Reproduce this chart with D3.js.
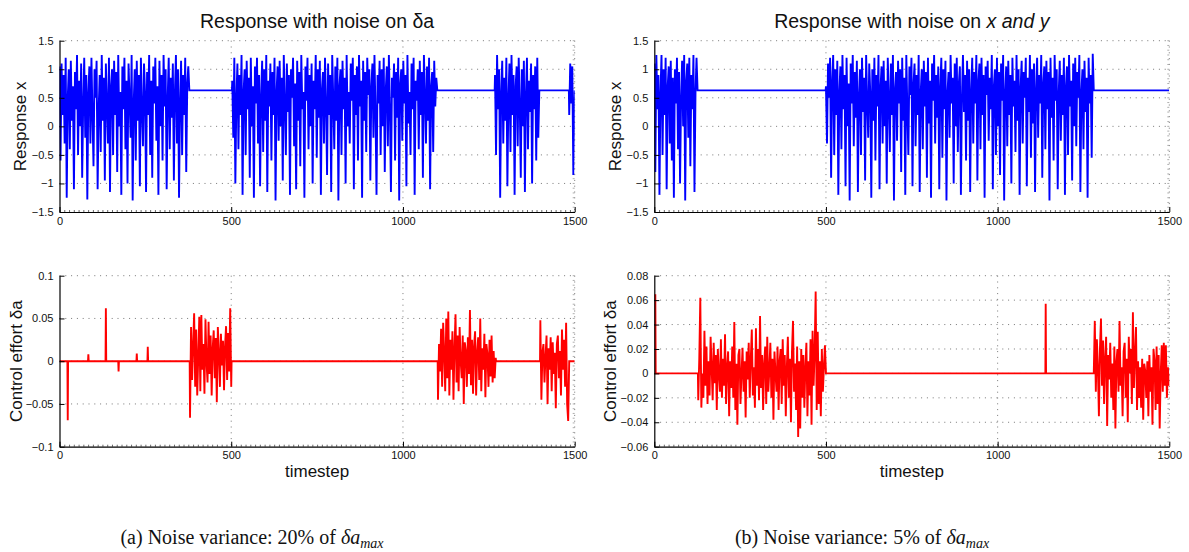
<!DOCTYPE html>
<html>
<head>
<meta charset="utf-8">
<script src="https://cdn.jsdelivr.net/npm/d3@7"></script>
<style>
body { margin: 0; background: #fff; }
text { font-family: "Liberation Sans", Arial, sans-serif; }
</style>
</head>
<body>
<script>
// ---- data (timesteps 0..1500) ----
const xTicks = [0, 500, 1000, 1500]
const respTicks = [-1.5, -1, -0.5, 0, 0.5, 1, 1.5]
const ctrlTicksA = [-0.1, -0.05, 0, 0.05, 0.1]
const ctrlTicksB = [-0.06, -0.04, -0.02, 0, 0.02, 0.04, 0.06, 0.08]

const fixedPoint = 0.63   // level where the controlled response sits
const sampleStep = 3      // the noisy stretches are sampled every 3 timesteps

// (a) response x, noisy stretches
const respA1 = [1.05,-0.6,1.1,0.2,0.9,-0.3,1.2,-1.25,0.5,1.0,
  -0.4,1.15,0.1,0.7,-1.1,0.95,0.3,1.25,-0.5,0.8,
  0.0,1.1,-0.9,0.4,1.2,-0.2,0.9,-1.28,0.6,1.05,
  -0.3,1.2,0.2,-0.7,1.0,0.5,1.15,-1.1,0.3,0.9,
  -0.45,1.25,0.1,0.85,-0.95,1.1,0.4,-0.3,1.2,-1.15,
  0.7,1.0,-0.5,1.15,0.2,0.95,-0.8,1.25,0.0,0.6,
  -1.2,1.05,0.3,1.2,-0.4,0.8,-1.0,1.1,0.5,-0.2,
  1.25,-1.3,0.4,1.0,-0.6,1.15,0.1,0.9,-1.05,1.2,
  0.3,-0.35,1.1,0.6,-1.15,0.95,0.2,1.25,-0.5,0.8,
  -0.9,1.05,0.4,1.2,-0.25,0.7,-1.2,1.15,0.0,0.9,
  -0.6,1.25,0.35,1.0,-1.1,0.5,1.2,-0.4,0.85,0.15,
  1.1,-0.95,0.6,1.25,-0.3,1.0,-1.25,0.45,1.15,-0.5,
  0.9,0.2,1.2,-0.8,0.75,1.05,0.63]
const respA2 = [0.8,-0.2,1.2,-1.0,0.5,1.1,-0.4,0.9,0.2,1.25,
  -1.2,0.6,1.0,-0.5,1.15,0.3,0.85,-0.9,1.2,0.0,
  0.7,-1.25,1.05,0.4,1.2,-0.3,0.9,-1.05,0.55,1.15,
  -0.45,1.0,0.1,1.25,-1.15,0.8,0.35,1.1,-0.6,0.95,
  0.2,1.2,-1.3,0.6,1.05,-0.25,1.15,0.0,0.85,-0.95,
  1.25,0.4,-0.5,1.1,0.25,0.9,-1.2,1.0,0.5,1.2,
  -0.35,0.75,-1.1,1.15,0.1,0.95,-0.7,1.25,0.3,0.6,
  -1.25,1.05,0.45,1.2,-0.4,0.9,0.0,1.1,-1.0,0.8,
  0.3,1.25,-0.55,1.0,0.15,1.15,-1.2,0.65,0.95,-0.3,
  1.2,0.4,-0.85,1.1,0.2,0.9,-1.15,1.25,0.5,-0.4,
  1.05,0.1,1.2,-1.3,0.7,1.0,-0.5,1.15,0.3,0.85,
  -1.0,1.25,0.0,0.6,-0.3,1.1,0.45,1.2,-1.1,0.9,
  0.2,1.05,-0.6,1.25,0.35,0.8,-1.25,1.15,0.1,0.95,
  -0.45,1.2,0.55,1.0,-0.95,0.7,1.1,-0.2,1.25,0.25,
  -1.2,0.9,0.4,1.15,-0.5,1.0,0.0,1.2,-0.8,0.65,
  1.05,-0.35,1.25,0.3,-1.15,0.85,0.5,1.1,-0.6,0.95,
  0.15,1.2,-1.3,0.75,1.0,-0.25,1.15,0.4,0.9,-1.05,
  1.25,0.05,0.6,-0.5,1.1,0.3,1.2,-1.2,0.8,0.45,
  1.0,-0.4,1.15,0.2,0.95,-0.9,1.25,0.55,-0.3,1.05,
  0.1,1.2,-1.1,0.7,0.95,-0.45,1.15,0.35,0.85,0.63]
const respA3 = [0.9,-0.5,1.25,0.3,1.0,-1.25,0.6,1.15,-0.3,0.85,
  0.1,1.2,-1.05,0.5,1.1,-0.45,1.25,0.2,0.9,-1.2,
  0.7,1.05,-0.35,1.2,0.4,-0.9,1.0,0.0,1.15,-1.15,
  0.55,1.2,-0.4,0.8,0.25,1.1,-1.0,0.9,0.3,1.05,
  -0.6,1.2,-0.2,0.63]
const respA4 = [0.2,1.1,0.4,1.05,-0.85,0.35]

// (b) response x, noisy stretches
const respB1 = [1.1,-0.8,1.25,0.3,0.9,-1.2,0.6,1.25,-0.5,1.0,
  0.2,1.2,-1.1,0.7,1.05,-0.3,1.15,-0.6,0.85,-1.25,
  1.0,0.4,1.2,-0.4,0.95,-1.0,0.5,1.15,0.0,1.25,
  -1.3,0.8,1.1,-0.2,1.2,-0.7,0.9,0.3,1.25,-1.15,
  0.6,1.2,0.63]
const respB2 = [0.7,-0.3,1.1,0.5,1.2,-0.9,0.8,1.25,-0.5,1.0,
  0.2,1.15,-1.2,0.6,1.05,-0.4,1.25,0.3,0.9,-1.05,
  1.2,0.0,0.75,-1.3,1.1,0.4,1.25,-0.35,0.95,0.15,
  1.15,-1.15,0.55,1.0,-0.5,1.2,0.25,0.85,-0.95,1.25,
  0.45,-0.2,1.1,0.6,-1.25,1.0,0.1,1.2,-0.6,0.9,
  0.35,1.25,-1.1,0.7,1.05,-0.3,1.15,0.0,0.8,-1.0,
  1.2,0.5,-0.45,1.1,0.2,1.25,-1.3,0.65,0.95,-0.25,
  1.15,0.4,1.0,-0.8,1.2,0.1,0.85,-1.2,1.25,0.3,
  -0.5,1.05,0.55,1.2,-1.05,0.75,1.1,-0.35,0.9,0.2,
  1.25,-1.15,0.6,1.0,-0.4,1.15,0.35,0.95,-0.9,1.2,
  0.05,0.8,-1.25,1.1,0.45,1.25,-0.3,0.9,0.15,1.05,
  -1.1,0.7,1.2,-0.55,1.0,0.3,1.15,-1.3,0.6,0.95,
  -0.2,1.25,0.4,0.85,-1.0,1.1,0.0,1.2,-0.45,0.75,
  1.05,-1.2,0.5,1.25,0.25,0.9,-0.6,1.15,0.1,1.0,
  -1.15,0.65,1.2,-0.3,0.95,0.4,1.25,-0.95,0.8,1.1,
  -0.4,1.2,0.2,0.9,-1.25,1.05,0.55,1.15,-0.25,0.85,
  0.3,1.25,-1.1,0.7,1.0,-0.5,1.2,0.0,0.95,-0.85,
  1.1,0.45,1.25,-1.3,0.6,1.05,-0.35,1.15,0.2,0.9,
  -1.0,1.2,0.35,0.8,-0.45,1.25,0.1,1.0,-1.2,0.7,
  1.15,-0.3,0.95,0.5,1.2,-1.05,0.85,0.25,1.25,-0.55,
  1.0,0.05,1.1,-1.15,0.65,1.2,-0.2,0.9,0.4,1.25,
  -0.9,0.75,1.05,-0.4,1.15,0.3,0.95,-1.3,1.2,0.15,
  0.85,-0.6,1.25,0.45,1.0,-1.1,0.6,1.15,-0.25,0.9,
  0.2,1.2,-1.2,0.7,1.05,-0.5,1.25,0.35,0.8,-0.95,
  1.1,0.0,1.2,-0.35,0.95,0.5,1.25,-1.15,0.6,1.0,
  -0.4,1.15,0.25,0.85,-1.25,1.2,0.4,0.9,-0.55,1.27,
  0.63]

// (a) control effort, noisy stretches + isolated kicks
const ctrlA1 = [-0.066,0.04,-0.022,0.018,0.056,-0.03,0.037,-0.04,0.005,0.052,
  -0.035,0.054,-0.01,0.02,-0.038,0.049,0.0,-0.025,0.046,-0.015,
  0.03,-0.04,0.015,0.036,-0.02,0.027,-0.048,0.04,0.01,-0.03,
  0.032,-0.005,0.024,-0.034,0.018,0.041,-0.022,0.033,-0.012,0.062,
  -0.03]
const ctrlA2 = [-0.045,0.02,-0.012,0.038,-0.03,0.045,0.01,-0.035,0.05,-0.02,
  0.058,-0.04,0.025,-0.01,0.035,-0.045,0.015,0.055,-0.025,0.03,
  -0.035,0.04,0.0,-0.02,0.03,-0.05,0.022,0.012,-0.03,0.028,
  -0.015,0.06,-0.028,0.025,-0.038,0.018,0.035,-0.04,0.01,0.028,
  -0.022,0.05,-0.035,0.015,-0.01,0.032,-0.042,0.02,0.008,-0.03,
  0.025,-0.018,0.03,-0.025,0.012,-0.02,0.004]
const ctrlA3 = [0.048,-0.045,0.01,0.02,-0.025,0.005,0.03,-0.05,0.015,-0.01,
  0.028,-0.035,0.022,-0.015,0.01,-0.055,0.02,0.03,-0.02,0.012,
  -0.04,0.037,-0.01,0.025,-0.03,0.045,-0.05,-0.07,0.0]
const kickTimesA = [24, 84, 135, 172, 225, 257]
const kickValuesA = [-0.069, 0.008, 0.062, -0.012, 0.009, 0.017]

// (b) control effort
const ctrlB0 = [0.064, 0.064]
const ctrlB1 = [-0.022,0.012,0.062,-0.028,0.0,-0.02,0.035,-0.01,0.022,-0.025,
  0.01,-0.018,0.03,0.005,-0.022,0.025,-0.008,0.015,-0.03,0.02,
  0.0,-0.015,0.028,-0.02,0.012,-0.01,0.032,-0.025,0.005,0.018,
  -0.035,0.01,-0.012,0.022,-0.02,0.042,-0.03,0.008,-0.042,0.015,
  0.02,-0.025,0.0,0.021,-0.015,0.01,-0.036,0.018,-0.005,0.025,
  -0.02,0.012,0.036,-0.018,0.005,-0.028,0.037,-0.01,0.02,-0.022,
  0.047,-0.012,0.015,-0.03,0.008,0.022,-0.025,0.03,-0.015,0.002,
  0.025,-0.02,0.012,-0.038,0.018,0.0,-0.015,0.022,-0.03,0.01,
  0.02,-0.025,0.028,-0.01,0.015,-0.035,0.005,0.03,-0.02,0.012,
  -0.04,0.018,0.043,-0.015,0.008,-0.03,0.022,-0.052,0.01,-0.045,
  0.02,-0.02,0.015,-0.028,0.005,0.025,-0.035,0.01,-0.018,0.028,
  -0.042,0.035,-0.01,0.018,0.067,-0.03,0.034,-0.025,0.01,-0.035,
  0.02,-0.015,0.005,0.023,0.0]
const ctrlB2 = [0.0,0.043,-0.015,0.028,0.005,-0.035,0.02,0.045,-0.01,0.027,
  -0.025,0.012,0.03,-0.043,0.015,-0.005,0.025,-0.02,0.008,-0.03,
  0.022,-0.045,0.01,0.02,-0.015,0.043,-0.01,0.005,-0.035,0.018,
  0.025,-0.02,0.012,-0.04,0.03,0.0,0.02,-0.025,0.05,-0.012,
  0.015,0.038,-0.03,0.01,-0.02,0.005,-0.028,0.012,-0.038,0.008,
  0.002,-0.02,0.01,-0.035,0.015,-0.015,0.005,-0.042,0.02,0.01,
  -0.03,0.022,-0.025,0.015,-0.045,0.0,0.023,-0.015,0.025,-0.01,
  0.023,-0.02,0.005,-0.01]
const kickTimesB = [1140]
const kickValuesB = [0.057]

// where each noisy stretch starts
const respAStarts = [0, 503, 1268, 1484]
const respBStarts = [0, 500]
const ctrlAStarts = [380, 1102, 1400]
const ctrlBStarts = [0, 128, 1280]

// ---- layout ----
const W = 1189, H = 552
const colL = [59.5, 574.7]
const colR = [654.3, 1169.3]
const rowTop = [40.7, 212]
const rowBot = [275.7, 446.7]

const svg = d3.select("body").append("svg")
    .attr("width", W)
    .attr("height", H)
    .attr("xmlns", "http://www.w3.org/2000/svg")

// glue noisy stretches together with the flat level in between
function buildSeries(starts, chunks, flat, kickT, kickV) {
    const pts = []
    const lastT = 1500
    if (starts[0] > 0) pts.push([0, flat])
    chunks.forEach((vals, k) => {
        const s = starts[k]
        if (s > 0) pts.push([s - 1, flat])
        vals.forEach((v, i) => pts.push([s + i * sampleStep, v]))
        const e = s + (vals.length - 1) * sampleStep
        if (e < lastT) pts.push([e + 1, flat])
    })
    ;(kickT || []).forEach((t, i) => {
        pts.push([t - 1, flat], [t, kickV[i]], [t + 1, flat])
    })
    pts.sort((a, b) => a[0] - b[0])
    if (pts[pts.length - 1][0] < lastT) pts.push([lastT, flat])
    return pts
}

const fmt = v => v === 0 ? "0" : (v < 0 ? "\u2212" : "") + Math.abs(v)
let clipId = 0

function drawPanel(p) {
    const x = d3.scaleLinear().domain([0, 1500]).range(p.cols)
    const y = d3.scaleLinear().domain([p.yTicks[0], p.yTicks[p.yTicks.length - 1]]).range([p.rows[1], p.rows[0]])
    const g = svg.append("g")

    // dotted grid (top and right edge are grid lines too)
    g.selectAll(".vgrid").data(xTicks.slice(1)).join("line")
        .attr("x1", d => x(d)).attr("x2", d => x(d))
        .attr("y1", p.rows[0]).attr("y2", p.rows[1])
        .attr("stroke", "#777").attr("stroke-width", 1)
        .attr("stroke-dasharray", "1,4.8")
    g.selectAll(".hgrid").data(p.yTicks.slice(1)).join("line")
        .attr("x1", p.cols[0]).attr("x2", p.cols[1])
        .attr("y1", d => y(d)).attr("y2", d => y(d))
        .attr("stroke", "#777").attr("stroke-width", 1)
        .attr("stroke-dasharray", "1,4.8")

    // small ticks along the right edge
    const rightMinor = d3.range(0, 37).map(i => p.rows[0] + i * (p.rows[1] - p.rows[0]) / 36)
    g.selectAll(".rminor").data(rightMinor).join("line")
        .attr("x1", p.cols[1] - 2).attr("x2", p.cols[1])
        .attr("y1", d => d).attr("y2", d => d)
        .attr("stroke", "#999").attr("stroke-width", 0.8)

    const id = "clip" + (clipId++)
    svg.append("clipPath").attr("id", id).append("rect")
        .attr("x", p.cols[0]).attr("y", p.rows[0])
        .attr("width", p.cols[1] - p.cols[0]).attr("height", p.rows[1] - p.rows[0])

    g.append("path")
        .datum(p.series)
        .attr("clip-path", "url(#" + id + ")")
        .attr("fill", "none")
        .attr("stroke", p.color)
        .attr("stroke-width", p.lw)
        .attr("d", d3.line().x(d => x(d[0])).y(d => y(d[1])))

    // minor ticks on the time axis
    const minor = d3.range(0, 1500, 500 / 36)
    g.append("g")
        .attr("transform", "translate(0," + p.rows[1] + ")")
        .call(d3.axisBottom(x).tickValues(minor).tickSize(-2).tickFormat(""))
        .call(a => a.select(".domain").remove())
        .call(a => a.selectAll("line").attr("stroke", "#444").attr("stroke-width", 0.8))

    const ax = g.append("g")
        .attr("transform", "translate(0," + p.rows[1] + ")")
        .call(d3.axisBottom(x).tickValues(xTicks).tickSizeInner(-5).tickSizeOuter(0).tickPadding(5).tickFormat(fmt))
    const ay = g.append("g")
        .attr("transform", "translate(" + p.cols[0] + ",0)")
        .call(d3.axisLeft(y).tickValues(p.yTicks).tickSizeInner(-5).tickSizeOuter(0).tickPadding(6).tickFormat(fmt))
    for (const a of [ax, ay]) {
        a.attr("font-family", null).attr("font-size", null)
        a.selectAll("text").attr("font-size", "11px").attr("fill", "#111")
        a.select(".domain").attr("stroke", "#000").attr("stroke-width", 1.2)
    }

    g.append("text")
        .attr("transform", "translate(" + p.ylabelX + "," + (p.rows[0] + p.rows[1]) / 2 + ") rotate(-90)")
        .attr("text-anchor", "middle")
        .attr("font-size", "17px")
        .attr("fill", "#111")
        .text(p.ylabel)

    if (p.xlabel) {
        g.append("text")
            .attr("x", (p.cols[0] + p.cols[1]) / 2)
            .attr("y", p.rows[1] + 30)
            .attr("text-anchor", "middle")
            .attr("font-size", "17px")
            .attr("fill", "#111")
            .text(p.xlabel)
    }
    return g
}

drawPanel({cols: colL, rows: rowTop, yTicks: respTicks, color: "#0000ff", lw: 1.9,
    series: buildSeries(respAStarts, [respA1, respA2, respA3, respA4], fixedPoint),
    ylabel: "Response x", ylabelX: 26})
drawPanel({cols: colR, rows: rowTop, yTicks: respTicks, color: "#0000ff", lw: 1.9,
    series: buildSeries(respBStarts, [respB1, respB2], fixedPoint),
    ylabel: "Response x", ylabelX: 621})
drawPanel({cols: colL, rows: rowBot, yTicks: ctrlTicksA, color: "#ff0000", lw: 1.9,
    series: buildSeries(ctrlAStarts, [ctrlA1, ctrlA2, ctrlA3], 0, kickTimesA, kickValuesA),
    ylabel: "Control effort \u03b4a", ylabelX: 22, xlabel: "timestep"})
drawPanel({cols: colR, rows: rowBot, yTicks: ctrlTicksB, color: "#ff0000", lw: 1.9,
    series: buildSeries(ctrlBStarts, [ctrlB0, ctrlB1, ctrlB2], 0, kickTimesB, kickValuesB),
    ylabel: "Control effort \u03b4a", ylabelX: 616, xlabel: "timestep"})

// titles
svg.append("text")
    .attr("x", (colL[0] + colL[1]) / 2).attr("y", 28)
    .attr("text-anchor", "middle").attr("font-size", "19.5px").attr("fill", "#111")
    .text("Response with noise on \u03b4a")
const t2 = svg.append("text")
    .attr("x", (colR[0] + colR[1]) / 2).attr("y", 28)
    .attr("text-anchor", "middle").attr("font-size", "19.5px").attr("fill", "#111")
t2.append("tspan").text("Response with noise on ")
t2.append("tspan").attr("font-style", "italic").text("x and y")

// sub-captions
const captions = [["(a) Noise variance: 20% of ", 252], ["(b) Noise variance: 5% of ", 862]]
for (const [txt, cx] of captions) {
    const c = svg.append("text")
        .attr("x", cx).attr("y", 544)
        .attr("text-anchor", "middle")
        .attr("font-size", "20px").attr("fill", "#111")
        .style("font-family", "'Liberation Serif', 'DejaVu Serif', serif")
    c.append("tspan").text(txt)
    c.append("tspan").attr("font-style", "italic").text("\u03b4a")
    c.append("tspan").attr("font-style", "italic").attr("font-size", "14px").attr("dy", 4).text("max")
}
</script>
</body>
</html>
